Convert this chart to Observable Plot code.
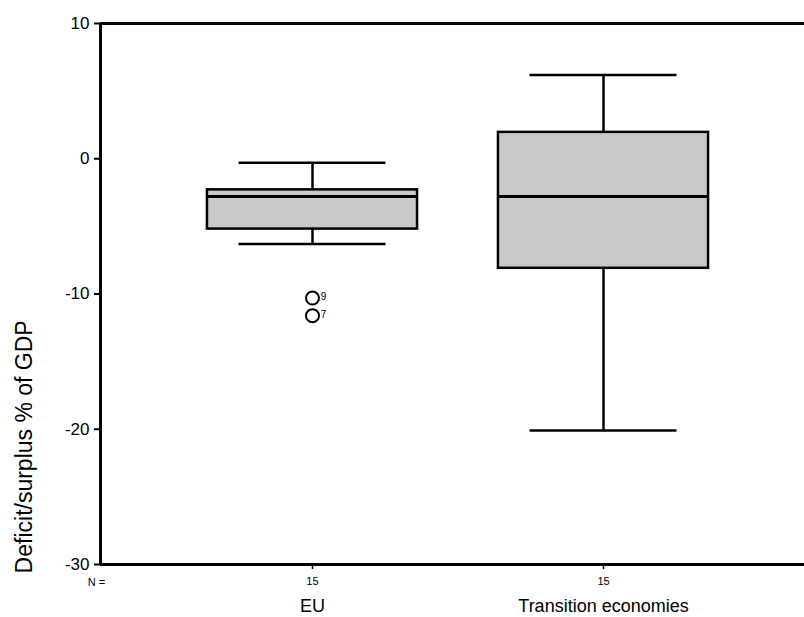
<!DOCTYPE html>
<html>
<head>
<meta charset="utf-8">
<script src="https://cdn.jsdelivr.net/npm/d3@7"></script>
<script src="https://cdn.jsdelivr.net/npm/@observablehq/plot@0.6"></script>
<style>
  html, body { margin: 0; padding: 0; background: #fff; }
  #chart svg { display: block; }
</style>
</head>
<body>
<div id="chart"></div>
<script>
const categories = ["EU", "Transition economies"];
const nLabels = ["15", "15"];
const lowWhisker = [-6.3, -20.1];
const q1 = [-5.2, -8.1];
const median = [-2.8, -2.8];
const q3 = [-2.3, 1.95];
const highWhisker = [-0.3, 6.2];
const outlierGroup = [0, 0];
const outlierValues = [-10.3, -11.6];
const outlierLabels = ["9", "7"];
const yTicks = [-30, -20, -10, 0, 10];
const yLabel = "Deficit/surplus % of GDP";

const boxes = categories.map((c, i) => ({
  pos: i + 1, lo: lowWhisker[i], q1: q1[i], med: median[i], q3: q3[i], hi: highWhisker[i]
}));
const outliers = outlierValues.map((v, i) => ({pos: outlierGroup[i] + 1, v, label: outlierLabels[i]}));

const halfBox = 0.361, halfCap = 0.2526;
const xMin = 0.2715, xMax = 2.6907, yMin = -30, yMax = 10;
const lw = 3;

const chart = Plot.plot({
  width: 804,
  height: 617,
  marginLeft: 100,
  marginRight: 0,
  marginTop: 23,
  marginBottom: 53,
  style: {fontFamily: "Liberation Sans, Arial, sans-serif", color: "black", background: "white"},
  x: {domain: [xMin, xMax], axis: null},
  y: {domain: [yMin, yMax], axis: null},
  marks: [
    // whiskers
    Plot.ruleX(boxes, {x: "pos", y1: "q3", y2: "hi", stroke: "black", strokeWidth: 2.5}),
    Plot.ruleX(boxes, {x: "pos", y1: "lo", y2: "q1", stroke: "black", strokeWidth: 2.5}),
    Plot.ruleY(boxes, {y: "hi", x1: d => d.pos - halfCap, x2: d => d.pos + halfCap, stroke: "black", strokeWidth: 2.5}),
    Plot.ruleY(boxes, {y: "lo", x1: d => d.pos - halfCap, x2: d => d.pos + halfCap, stroke: "black", strokeWidth: 2.5}),
    // boxes
    Plot.rect(boxes, {x1: d => d.pos - halfBox, x2: d => d.pos + halfBox, y1: "q1", y2: "q3",
      fill: "#c9c9c9", stroke: "black", strokeWidth: 2.5}),
    Plot.ruleY(boxes, {y: "med", x1: d => d.pos - halfBox, x2: d => d.pos + halfBox, stroke: "black", strokeWidth: 3}),
    // outliers
    Plot.dot(outliers, {x: "pos", y: "v", r: 6.5, stroke: "black", strokeWidth: 2, fill: "none"}),
    Plot.text(outliers, {x: "pos", y: "v", text: "label", dx: 11, dy: -1, fontSize: 10, fill: "black"}),
    // frame
    Plot.ruleX([xMin], {y1: yMin, y2: yMax, stroke: "black", strokeWidth: lw}),
    Plot.ruleY([yMax, yMin], {x1: xMin, x2: xMax, stroke: "black", strokeWidth: lw}),
    // y axis
    Plot.axisY({ticks: yTicks, tickSize: 6, tickPadding: 5, fontSize: 17, strokeWidth: 2,
      tickFormat: d => String(d), label: null}),
    Plot.text([yLabel], {x: [xMin - 76 / 291], y: [-21.3], rotate: -90, fontSize: 23, fill: "black"}),
    // x axis: N labels and categories
    Plot.axisX({ticks: boxes.map(d => d.pos), tickSize: 5, tickPadding: 8, strokeWidth: 1.5,
      tickFormat: d => nLabels[d - 1], fontSize: 11, label: null}),
    Plot.text(["N ="], {x: [xMin - 4 / 291], y: [yMin], dy: 18, fontSize: 11, fill: "black"}),
    Plot.text(categories, {x: (d, i) => i + 1, y: () => yMin, dy: 42, fontSize: 18, fill: "black"})
  ]
});
document.getElementById("chart").appendChild(chart);
</script>
</body>
</html>
